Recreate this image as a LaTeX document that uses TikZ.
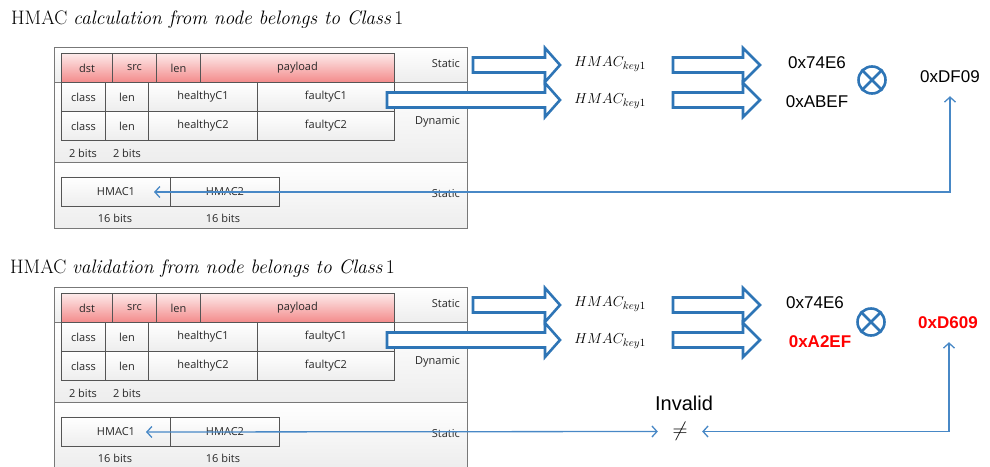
\documentclass[tikz,border=0pt]{standalone}
\usepackage{fontspec}
\usetikzlibrary{arrows.meta,calc}
\newfontfamily\cellfont{Open Sans}
\newfontfamily\arialfont{Liberation Sans}
\definecolor{boxblue}{RGB}{46,117,182}
\definecolor{lineblue}{RGB}{72,136,198}
\definecolor{cellborder}{RGB}{85,85,85}
\definecolor{frameborder}{RGB}{120,120,120}
\definecolor{redtop}{RGB}{253,234,234}
\definecolor{redbot}{RGB}{243,138,138}
\definecolor{celltext}{RGB}{40,40,40}

\tikzset{
  section/.style={draw=frameborder, line width=0.9pt, top color=white, bottom color=black!7,
    inner sep=0pt, anchor=north west, minimum width=413pt},
  cell/.style={draw=cellborder, line width=1pt, top color=white, bottom color=black!7,
    font=\cellfont\fontsize{11}{12}\selectfont, text=celltext, inner sep=0pt,
    anchor=north west, minimum height=29pt},
  redcell/.style={cell, top color=redtop, bottom color=redbot},
  lbl/.style={font=\cellfont\fontsize{11}{12}\selectfont, text=celltext, inner sep=0pt},
  barrow/.style={draw=boxblue, line width=2.6pt, fill=white, line join=miter},
  conn/.style={draw=lineblue, line width=1.3pt,
    {Straight Barb[length=5pt,width=11pt]}-{Straight Barb[length=5pt,width=11pt]}},
  hexval/.style={font=\arialfont\fontsize{17}{20}\selectfont, inner sep=0pt},
  redval/.style={font=\arialfont\bfseries\fontsize{17}{20}\selectfont, text=red, inner sep=0pt},
  hk/.style={font=\fontsize{15.5}{18}\selectfont, inner sep=0pt},
  titlestyle/.style={font=\fontsize{19.5}{22}\selectfont, inner sep=0pt, anchor=base west},
  xorsym/.style={circle, draw=boxblue, line width=2.6pt, minimum size=27pt, inner sep=0pt},
  xorbar/.style={draw=boxblue, line width=2.6pt},
}

\newcommand\blockarr[4]{%
  \draw[barrow] (#1,#4-7.5) -- (#2,#4-7.5) -- (#2,#4-17) -- (#3,#4)
    -- (#2,#4+17) -- (#2,#4+7.5) -- (#1,#4+7.5) -- cycle;}

\newcommand\fieldpanel[2]{%
\begin{scope}[shift={(0,#2)}]
  \node[section, minimum height=35pt] (#1secA) at (54,47) {};
  \node[section, minimum height=80pt] (#1secB) at (54,82) {};
  \node[section, minimum height=66pt] (#1secC) at (54,162) {};
  % header row
  \node[redcell, minimum width=51pt] (#1dst) at (61,53) {dst};
  \node[redcell, minimum width=44pt] (#1src) at (112,53) {src};
  \node[redcell, minimum width=44pt] (#1len) at (156,53) {len};
  \node[redcell, minimum width=194pt] (#1pay) at (200,53) {payload};
  % class rows
  \node[cell, minimum width=44pt] (#1cA) at (61,82) {class};
  \node[cell, minimum width=43pt] (#1lA) at (105,82) {len};
  \node[cell, minimum width=109pt] (#1hA) at (148,82) {healthyC1};
  \node[cell, minimum width=137pt] (#1fA) at (257,82) {faultyC1};
  \node[cell, minimum width=44pt] (#1cB) at (61,111) {class};
  \node[cell, minimum width=43pt] (#1lB) at (105,111) {len};
  \node[cell, minimum width=109pt] (#1hB) at (148,111) {healthyC2};
  \node[cell, minimum width=137pt] (#1fB) at (257,111) {faultyC2};
  \node[lbl] (#1bitsA) at (83,153) {2 bits};
  \node[lbl] (#1bitsB) at (127,153) {2 bits};
  % HMAC row
  \node[cell, minimum width=109pt] (#1hm1) at (61,177) {HMAC1};
  \node[cell, minimum width=109pt] (#1hm2) at (170,177) {HMAC2};
  \node[lbl] (#1bitsC) at (115,218) {16 bits};
  \node[lbl] (#1bitsD) at (223,218) {16 bits};
  % section labels
  \node[lbl, anchor=east] (#1stA) at (460,64) {Static};
  \node[lbl, anchor=east] (#1dyn) at (460,122) {Dynamic};
  \node[lbl, anchor=east] (#1stB) at (460,194) {Static};
  % block arrows
  \blockarr{473}{545}{560}{65}
  \blockarr{387}{545}{560}{100}
  \blockarr{673}{743}{760}{65}
  \blockarr{673}{743}{760}{100}
  \node[hk] (#1kA) at (610,64) {$HMAC_{key1}$};
  \node[hk] (#1kB) at (610,101) {$HMAC_{key1}$};
\end{scope}}

\begin{document}
\begin{tikzpicture}[x=1pt,y=-1pt]
  \useasboundingbox (0,0) rectangle (990,466);

  % ---------- top panel ----------
  \node[titlestyle] (ttl1) at (11,24) {HMAC \textit{calculation from node belongs to Class}\,1};
  \fieldpanel{p}{0}
  \node[hexval] (pV1) at (817,63) {0x74E6};
  \node[hexval] (pV2) at (817,102) {0xABEF};
  \node[xorsym] (pX) at (872,80) {};
  \draw[xorbar] (pX.north east) -- (pX.south west) (pX.north west) -- (pX.south east);
  \node[hexval, anchor=west] (pDF) at (920,77) {0xDF09};
  \draw[conn, shorten <=13pt] ([xshift=30pt]pDF.south west) |- ([xshift=38pt]phm1.center);

  % ---------- bottom panel ----------
  \node[titlestyle] (ttl2) at (10,273) {HMAC \textit{validation from node belongs to Class}\,1};
  \fieldpanel{q}{240}
  \node[hexval] (qV1) at (815,303) {0x74E6};
  \node[redval] (qV2) at (820,342) {0xA2EF};
  \node[xorsym] (qX) at (871,322) {};
  \draw[xorbar] (qX.north east) -- (qX.south west) (qX.north west) -- (qX.south east);
  \node[redval, anchor=west] (qD6) at (918,323) {0xD609};
  \node[font=\arialfont\fontsize{20}{24}\selectfont, inner sep=0pt] (qinv) at (684,403) {Invalid};
  \node[font=\fontsize{20}{24}\selectfont, inner xsep=14.5pt, inner ysep=0pt] (qne) at (680,431.5) {$\neq$};
  \draw[conn] ([xshift=30pt]qhm1.center) -- (qne.west);
  \draw[conn, shorten <=13pt] ([xshift=31pt]qD6.south west) |- (qne.east);
\end{tikzpicture}
\end{document}
